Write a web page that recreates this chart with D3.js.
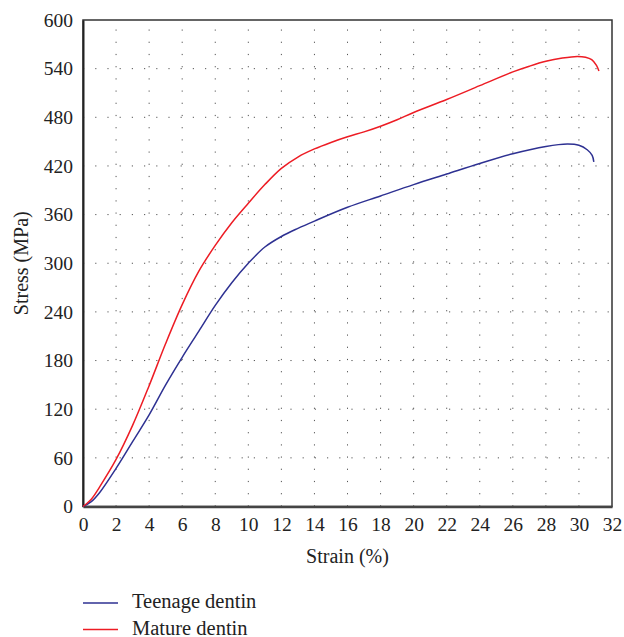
<!DOCTYPE html>
<html>
<head>
<meta charset="utf-8">
<script src="https://cdn.jsdelivr.net/npm/d3@7"></script>
<style>
  body { margin: 0; background: #fff; }
  svg text { font-family: "Liberation Serif", "Times New Roman", Times, serif; }
</style>
</head>
<body>
<div id="plot"></div>
<script>
// Stress-strain curves
const teenageStrain = [0, 0.5, 1, 2, 3, 4, 5, 6, 7, 8, 9, 10, 11, 12, 13, 14, 16, 18, 20, 22, 24, 26, 28, 29.3, 30, 30.5, 30.8, 30.9];
const teenageStress = [0, 6, 17, 47, 80, 113, 150, 184, 216, 248, 276, 300, 320, 333, 343, 352, 369, 383, 397, 410, 423, 435, 444, 447, 445.5, 440, 433, 425];

const matureStrain = [0, 0.5, 1, 2, 3, 4, 5, 6, 7, 8, 9, 10, 11, 12, 13, 14, 15, 16, 17, 18, 19, 20, 22, 24, 26, 27, 28, 29, 29.9, 30.4, 30.77, 31.06, 31.21];
const matureStress = [0, 9, 24, 58, 100, 149, 201, 249, 290, 322, 350, 374, 397, 417, 431, 441, 449, 456, 462, 469, 477, 486, 502, 519, 536, 543, 549, 553, 555, 554, 551, 544, 537];

const xTicks = d3.range(0, 33, 2);
const yTicks = d3.range(0, 601, 60);

const seriesNames = ["Teenage dentin", "Mature dentin"];
const seriesColors = ["#2e3192", "#ed1c24"];

const serif = "Liberation Serif";

const width = 624;
const height = 637;
const margin = { left: 83, right: 12, top: 20, bottom: 131 };

const svg = d3.select("div#plot")
    .append("svg")
    .attr("width", width)
    .attr("height", height)
    .attr("font-family", serif);

const x = d3.scaleLinear().domain([0, 32]).range([margin.left, width - margin.right]);
const y = d3.scaleLinear().domain([0, 600]).range([height - margin.bottom + 0.5, margin.top]);

// dotted grid
const grid = svg.append("g");
grid.selectAll("line.vx")
    .data(xTicks.filter(d => d > 0 && d < 32))
    .enter().append("line")
    .attr("x1", d => x(d)).attr("x2", d => x(d))
    .attr("y1", y(0)).attr("y2", y(600))
    .attr("stroke", "#555")
    .attr("stroke-width", 1)
    .attr("stroke-dasharray", "1.2,11");
grid.selectAll("line.hy")
    .data(yTicks.filter(d => d > 0 && d < 600))
    .enter().append("line")
    .attr("x1", x(0)).attr("x2", x(32))
    .attr("y1", d => y(d)).attr("y2", d => y(d))
    .attr("stroke", "#555")
    .attr("stroke-width", 1)
    .attr("stroke-dasharray", "1.2,11");

// frame
svg.append("rect")
    .attr("x", x(0)).attr("y", y(600))
    .attr("width", x(32) - x(0)).attr("height", y(0) - y(600))
    .attr("fill", "none")
    .attr("stroke", "#333")
    .attr("stroke-width", 1.5);

// axes (labels only, no tick marks)
const xAxis = svg.append("g")
    .attr("transform", `translate(0,${y(0)})`)
    .call(d3.axisBottom(x).tickValues(xTicks).tickSize(0).tickPadding(11));
xAxis.attr("font-family", serif).attr("font-size", 19.5);
xAxis.select(".domain").attr("stroke", "#444").attr("stroke-width", 2.5);
xAxis.selectAll("text").attr("fill", "#222");

const yAxis = svg.append("g")
    .attr("transform", `translate(${x(0)},0)`)
    .call(d3.axisLeft(y).tickValues(yTicks).tickSize(0).tickPadding(10));
yAxis.attr("font-family", serif).attr("font-size", 19.5);
yAxis.select(".domain").attr("stroke", "#222").attr("stroke-width", 2);
yAxis.selectAll("text").attr("fill", "#222");

// titles
svg.append("text")
    .attr("x", (x(0) + x(32)) / 2)
    .attr("y", 563)
    .attr("text-anchor", "middle")
    .attr("font-size", 20)
    .attr("fill", "#222")
    .text("Strain (%)");

svg.append("text")
    .attr("transform", `translate(28,${(y(0) + y(600)) / 2}) rotate(-90)`)
    .attr("text-anchor", "middle")
    .attr("font-size", 20)
    .attr("fill", "#222")
    .text("Stress (MPa)");

// curves
const line = d3.line()
    .x(d => x(d[0]))
    .y(d => y(d[1]))
    .curve(d3.curveCatmullRom.alpha(0.5));

const series = [
    d3.zip(teenageStrain, teenageStress),
    d3.zip(matureStrain, matureStress)
];

svg.append("g")
    .selectAll("path")
    .data(series)
    .enter().append("path")
    .attr("d", line)
    .attr("fill", "none")
    .attr("stroke", (d, i) => seriesColors[i])
    .attr("stroke-width", 1.5);

// legend
const legend = svg.append("g");
seriesNames.forEach(function(name, i) {
    const ly = 603 + i * 26.5;
    legend.append("line")
        .attr("x1", 83).attr("x2", 118)
        .attr("y1", ly).attr("y2", ly)
        .attr("stroke", seriesColors[i])
        .attr("stroke-width", 1.5);
    legend.append("text")
        .attr("x", 132)
        .attr("y", ly + 5)
        .attr("font-size", 20.5)
        .attr("fill", "#222")
        .text(name);
});
</script>
</body>
</html>
